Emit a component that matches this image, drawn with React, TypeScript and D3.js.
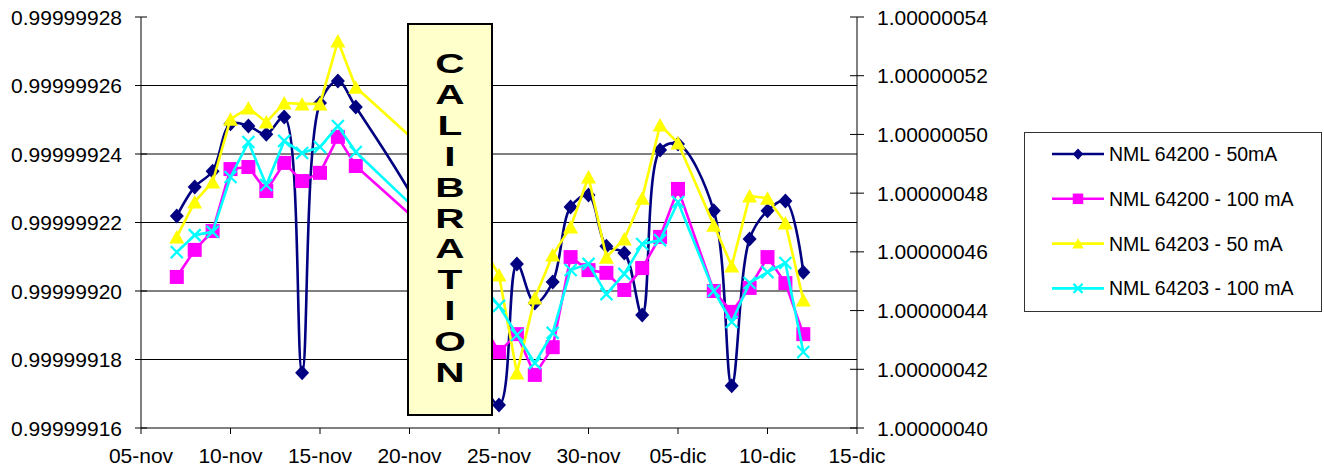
import React from 'react';
import * as d3 from 'd3';

// measurement days (21-nov is hidden behind the calibration box)
const days = [
  '2005-11-07', '2005-11-08', '2005-11-09', '2005-11-10', '2005-11-11', '2005-11-12',
  '2005-11-13', '2005-11-14', '2005-11-15', '2005-11-16', '2005-11-17', '2005-11-21',
  '2005-11-25', '2005-11-26', '2005-11-27', '2005-11-28', '2005-11-29', '2005-11-30',
  '2005-12-01', '2005-12-02', '2005-12-03', '2005-12-04', '2005-12-05', '2005-12-07',
  '2005-12-08', '2005-12-09', '2005-12-10', '2005-12-11', '2005-12-12',
];

const nml64200_50 = [
  0.9999992219, 0.9999992304, 0.9999992350, 0.9999992488, 0.9999992482, 0.9999992458,
  0.9999992508, 0.9999991761, 0.9999992549, 0.9999992613, 0.9999992537, 0.9999992196,
  0.9999991667, 0.9999992079, 0.9999991965, 0.9999992026, 0.9999992245, 0.9999992280,
  0.9999992131, 0.9999992111, 0.9999991930, 0.9999992412, 0.9999992429, 0.9999992234,
  0.9999991723, 0.9999992152, 0.9999992234, 0.9999992263, 0.9999992055,
];
const nml64200_100 = [
  0.9999992041, 0.9999992120, 0.9999992175, 0.9999992356, 0.9999992362, 0.9999992292,
  0.9999992374, 0.9999992321, 0.9999992345, 0.9999992450, 0.9999992365, 0.9999992178,
  0.9999991822, 0.9999991874, 0.9999991755, 0.9999991836, 0.9999992099, 0.9999992061,
  0.9999992053, 0.9999992003, 0.9999992067, 0.9999992158, 0.9999992298, 0.9999992000,
  0.9999991939, 0.9999992009, 0.9999992099, 0.9999992023, 0.9999991874,
];
const nml64203_50 = [
  1.0000004651, 1.0000004770, 1.0000004838, 1.0000005052, 1.0000005090, 1.0000005042,
  1.0000005107, 1.0000005104, 1.0000005104, 1.0000005318, 1.0000005161, 1.0000004940,
  1.0000004521, 1.0000004187, 1.0000004443, 1.0000004589, 1.0000004685, 1.0000004855,
  1.0000004582, 1.0000004644, 1.0000004783, 1.0000005032, 1.0000004971, 1.0000004691,
  1.0000004552, 1.0000004790, 1.0000004783, 1.0000004698, 1.0000004436,
];
const nml64203_100 = [
  1.0000004599, 1.0000004657, 1.0000004668, 1.0000004855, 1.0000004974, 1.0000004828,
  1.0000004978, 1.0000004937, 1.0000004957, 1.0000005029, 1.0000004940, 1.0000004708,
  1.0000004416, 1.0000004317, 1.0000004221, 1.0000004324, 1.0000004538, 1.0000004559,
  1.0000004456, 1.0000004525, 1.0000004627, 1.0000004640, 1.0000004770, 1.0000004467,
  1.0000004361, 1.0000004494, 1.0000004531, 1.0000004562, 1.0000004259,
];

const leftTicks = ['0.99999916', '0.99999918', '0.99999920', '0.99999922', '0.99999924', '0.99999926', '0.99999928'];
const rightTicks = ['1.00000040', '1.00000042', '1.00000044', '1.00000046', '1.00000048', '1.00000050', '1.00000052', '1.00000054'];
const xTicks = ['2005-11-05', '2005-11-10', '2005-11-15', '2005-11-20', '2005-11-25', '2005-11-30', '2005-12-05', '2005-12-10', '2005-12-15'];
const monthNames = ['ene', 'feb', 'mar', 'abr', 'may', 'jun', 'jul', 'ago', 'sep', 'oct', 'nov', 'dic'];
const calibLetters = 'CALIBRATION'.split('');

const series = [
  { name: 'NML 64200 - 50mA', values: nml64200_50, axis: 'left', color: '#000080', marker: 'diamond', smooth: true },
  { name: 'NML 64200 - 100 mA', values: nml64200_100, axis: 'left', color: '#FF00FF', marker: 'square', smooth: false },
  { name: 'NML 64203 - 50 mA', values: nml64203_50, axis: 'right', color: '#FFFF00', marker: 'triangle', smooth: false },
  { name: 'NML 64203 - 100 mA', values: nml64203_100, axis: 'right', color: '#00FFFF', marker: 'cross', smooth: false },
];

const parseDay = (s: string) => new Date(s + 'T00:00:00Z');
const fmtDay = (d: Date) => d3.utcFormat('%d')(d) + '-' + monthNames[d.getUTCMonth()];

const FONT = 'Arial, "Liberation Sans", sans-serif';

function Marker({ type, color, x, y, s = 1 }: { type: string; color: string; x: number; y: number; s?: number }) {
  if (type === 'diamond')
    return <path d={`M${x},${y - 7.5 * s}L${x + 7 * s},${y}L${x},${y + 7.5 * s}L${x - 7 * s},${y}Z`} fill={color} />;
  if (type === 'square')
    return <rect x={x - 7 * s} y={y - 7 * s} width={14 * s} height={14 * s} fill={color} />;
  if (type === 'triangle')
    return <path d={`M${x},${y - 7 * s}L${x + 7.5 * s},${y + 6.5 * s}L${x - 7.5 * s},${y + 6.5 * s}Z`} fill={color} />;
  return (
    <path d={`M${x - 6 * s},${y - 6 * s}L${x + 6 * s},${y + 6 * s}M${x + 6 * s},${y - 6 * s}L${x - 6 * s},${y + 6 * s}`}
      stroke={color} strokeWidth={2.2} fill="none" />
  );
}

export default function App() {
  const width = 1324;
  const height = 468;
  const m = { left: 141, right: 857, top: 17, bottom: 428 };

  const x = d3.scaleUtc()
    .domain([parseDay(xTicks[0]), parseDay(xTicks[xTicks.length - 1])])
    .range([m.left, m.right]);
  const yLeft = d3.scaleLinear()
    .domain([+leftTicks[0], +leftTicks[leftTicks.length - 1]])
    .range([m.bottom, m.top]);
  const yRight = d3.scaleLinear()
    .domain([+rightTicks[0], +rightTicks[rightTicks.length - 1]])
    .range([m.bottom, m.top]);

  const dates = days.map(parseDay);
  const hiddenDay = '2005-11-21';

  return (
    <svg width={width} height={height} style={{ position: 'fixed', left: 0, top: 0, background: '#fff' }}
      fontFamily={FONT}>
      {/* gridlines */}
      {leftTicks.slice(1, -1).map(t => (
        <line key={t} x1={m.left} x2={m.right} y1={yLeft(+t)} y2={yLeft(+t)} stroke="#000" strokeWidth={1} />
      ))}

      {/* left axis */}
      <line x1={m.left} x2={m.left} y1={m.top} y2={m.bottom} stroke="#000" />
      {leftTicks.map(t => (
        <g key={t}>
          <line x1={m.left - 6} x2={m.left + 6} y1={yLeft(+t)} y2={yLeft(+t)} stroke="#000" />
          <text x={122} y={yLeft(+t)} textAnchor="end" dominantBaseline="central" fontSize={21}>{t}</text>
        </g>
      ))}

      {/* right axis */}
      <line x1={m.right} x2={m.right} y1={m.top} y2={m.bottom} stroke="#000" />
      {rightTicks.map(t => (
        <g key={t}>
          <line x1={m.right - 7} x2={m.right + 7} y1={yRight(+t)} y2={yRight(+t)} stroke="#000" />
          <text x={877} y={yRight(+t)} textAnchor="start" dominantBaseline="central" fontSize={21}>{t}</text>
        </g>
      ))}

      {/* x axis */}
      <line x1={m.left} x2={m.right} y1={m.bottom} y2={m.bottom} stroke="#000" />
      {xTicks.map(t => {
        const d = parseDay(t);
        return (
          <g key={t}>
            <line x1={x(d)} x2={x(d)} y1={m.bottom} y2={m.bottom + 6} stroke="#000" />
            <text x={x(d)} y={463} textAnchor="middle" fontSize={21}>{fmtDay(d)}</text>
          </g>
        );
      })}

      {/* series lines */}
      {series.map(s => {
        const yS = s.axis === 'left' ? yLeft : yRight;
        const line = d3.line<number>()
          .x((_, i) => x(dates[i]))
          .y(v => yS(v))
          .curve(s.smooth ? d3.curveCatmullRom : d3.curveLinear);
        return (
          <g key={s.name}>
            <path d={line(s.values) || ''} fill="none" stroke={s.color} strokeWidth={2.6} strokeLinejoin="round" />
            {s.values.map((v, i) => days[i] === hiddenDay ? null : (
              <Marker key={i} type={s.marker} color={s.color} x={x(dates[i])} y={yS(v)} />
            ))}
          </g>
        );
      })}

      {/* calibration box */}
      <rect x={408} y={24} width={84} height={391} fill="#FFFFCC" stroke="#000" strokeWidth={2} />
      {calibLetters.map((c, i) => (
        <text key={i} transform={`translate(450,${73 + i * 30.9}) scale(1.45,1)`} textAnchor="middle"
          fontSize={28} fontWeight="bold">{c}</text>
      ))}

      {/* legend */}
      <rect x={1024.5} y={132.5} width={297} height={179} fill="#fff" stroke="#333" strokeWidth={1} />
      {series.map((s, i) => {
        const ly = 154 + i * 44.8;
        return (
          <g key={s.name}>
            <line x1={1052} x2={1104} y1={ly} y2={ly} stroke={s.color} strokeWidth={2.6} />
            <Marker type={s.marker} color={s.color} x={1078} y={ly} s={0.75} />
            <text x={1109} y={ly} dominantBaseline="central" fontSize={19.5}>{s.name}</text>
          </g>
        );
      })}
    </svg>
  );
}
